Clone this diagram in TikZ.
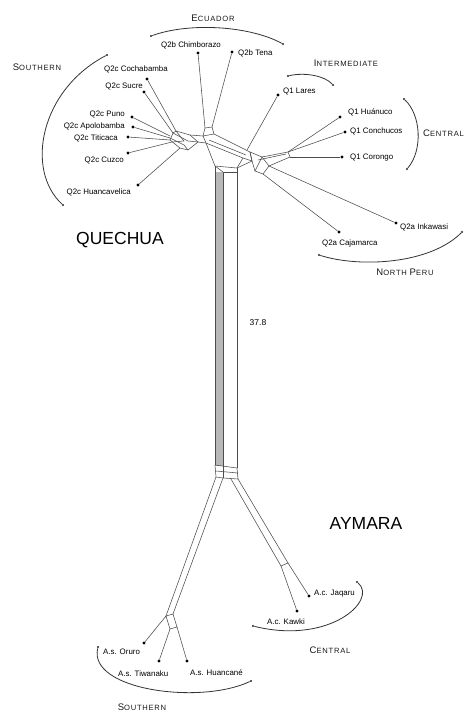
\documentclass[tikz,border=0pt]{standalone}
\usepackage{fontspec}
\setmainfont{Liberation Sans}
\newcommand\gsc[2]{{\fontsize{9.5}{10}\selectfont #1}{\fontsize{7.6}{8}\selectfont\addfontfeature{LetterSpace=10}#2}}
\begin{document}
\begin{tikzpicture}[x=1pt,y=-1pt,
  net/.style={draw=black!70, line width=0.55pt},
  tip/.style={circle, fill=black, inner sep=0pt, minimum size=3.2pt},
  adot/.style={circle, fill=black!85, inner sep=0pt, minimum size=2.4pt},
  arcline/.style={draw=black!80, line width=0.8pt},
  lab/.style={font=\fontsize{7.9}{8}\selectfont, inner sep=0pt, text=black},
  grp/.style={inner sep=0pt, text=black!90},
  big/.style={font=\fontsize{17.5}{18}\selectfont, inner sep=0pt, text=black}
]
\useasboundingbox[fill=white] (0,0) rectangle (467,713);

% ---------- taxa dots ----------
\node[tip] (chim) at (198,53) {};
\node[tip] (tena) at (232,52) {};
\node[tip] (coch) at (147,79) {};
\node[tip] (sucr) at (144,92) {};
\node[tip] (puno) at (132,117) {};
\node[tip] (apol) at (133,127) {};
\node[tip] (titi) at (128,137) {};
\node[tip] (cuzc) at (128,153) {};
\node[tip] (huav) at (138,185) {};
\node[tip] (lare) at (278,95) {};
\node[tip] (huan) at (340,117) {};
\node[tip] (conc) at (345,132) {};
\node[tip] (coro) at (342,157) {};
\node[tip] (inka) at (396,223) {};
\node[tip] (caja) at (339,232) {};
\node[tip] (orur) at (144,643) {};
\node[tip] (tiwa) at (159,661) {};
\node[tip] (huac) at (187,661) {};
\node[tip] (jaqa) at (309,596) {};
\node[tip] (kawk) at (297,611) {};

% ---------- taxa labels ----------
\node[lab] (lchim) at (191,45) {Q2b Chimborazo};
\node[lab,anchor=west] (ltena) at (238,53) {Q2b Tena};
\node[lab,anchor=east] (lcoch) at (168,69) {Q2c Cochabamba};
\node[lab,anchor=east] (lsucr) at (143,86) {Q2c Sucre};
\node[lab,anchor=east] (lpuno) at (125,114) {Q2c Puno};
\node[lab,anchor=east] (lapol) at (125,126) {Q2c Apolobamba};
\node[lab,anchor=east] (ltiti) at (118,138) {Q2c Titicaca};
\node[lab,anchor=east] (lcuzc) at (124,160) {Q2c Cuzco};
\node[lab,anchor=east] (lhuav) at (131,192) {Q2c Huancavelica};
\node[lab,anchor=west] (llare) at (283,91) {Q1 Lares};
\node[lab,anchor=west] (lhuan) at (348,112) {Q1 Huánuco};
\node[lab,anchor=west] (lconc) at (350,131) {Q1 Conchucos};
\node[lab,anchor=west] (lcoro) at (350,158) {Q1 Corongo};
\node[lab,anchor=west] (linka) at (400,227) {Q2a Inkawasi};
\node[lab,anchor=west] (lcaja) at (322,243) {Q2a Cajamarca};
\node[lab,anchor=west] (lorur) at (103,652) {A.s. Oruro};
\node[lab,anchor=west] (ltiwa) at (118,674) {A.s. Tiwanaku};
\node[lab,anchor=west] (lhuac) at (190,673) {A.s. Huancané};
\node[lab,anchor=west] (ljaqa) at (314,594) {A.c. Jaqaru};
\node[lab,anchor=west] (lkawk) at (267,622) {A.c. Kawki};

% ---------- big labels ----------
\node[big] (quechua) at (120,240) {QUECHUA};
\node[big] (aymara) at (366,523) {AYMARA};
\node[font=\fontsize{8.5}{9}\selectfont, inner sep=0pt] (len) at (258,323) {37.8};

% ---------- group labels ----------
\node[grp] (gecu) at (213,18) {\gsc{E}{CUADOR}};
\node[grp] (gsouq) at (37,67) {\gsc{S}{OUTHERN}};
\node[grp] (gint) at (346,63) {\gsc{I}{NTERMEDIATE}};
\node[grp,anchor=west] (gcenq) at (423,133) {\gsc{C}{ENTRAL}};
\node[grp] (gnp) at (405,272) {\gsc{N}{ORTH} \gsc{P}{ERU}};
\node[grp] (gcena) at (330,650) {\gsc{C}{ENTRAL}};
\node[grp] (gsoua) at (142,707) {\gsc{S}{OUTHERN}};

% ---------- group arcs ----------
\node[adot] (e1) at (151,36) {}; \node[adot] (e2) at (283,44) {};
\draw[arcline] (e1) .. controls (190,22) and (250,26) .. (e2);
\node[adot] (s1) at (107,55) {}; \node[adot] (s2) at (63,205) {};
\draw[arcline] (s1) .. controls (40,90) and (25,170) .. (s2);
\node[adot] (i1) at (288,76) {}; \node[adot] (i2) at (333,85) {};
\draw[arcline] (i1) .. controls (305,72) and (325,76) .. (i2);
\node[adot] (k1) at (404,99) {}; \node[adot] (k2) at (407,169) {};
\draw[arcline] (k1) .. controls (421,115) and (423,150) .. (k2);
\node[adot] (n1) at (319,255) {}; \node[adot] (n2) at (462,232) {};
\draw[arcline] (n1) .. controls (360,268) and (430,264) .. (n2);
\node[adot] (a1) at (357,582) {}; \node[adot] (a2) at (253,626) {};
\draw[arcline] (a1) .. controls (378,600) and (330,645) .. (a2);
\node[adot] (b1) at (98,647) {}; \node[adot] (b2) at (251,681) {};
\draw[arcline] (b1) .. controls (88,690) and (200,705) .. (b2);

% ---------- network: coordinates ----------
\coordinate (hq1) at (176,131);
\coordinate (hq2) at (173,133);
\coordinate (hq3) at (170,136);
\coordinate (hq4) at (170,138);
\coordinate (hq5) at (170,140);
\coordinate (hq6) at (172,142);
\coordinate (hq7) at (180,148);
\coordinate (hr1) at (190,135);
\coordinate (hr2) at (198,142);
\coordinate (hr3) at (188,150);
\coordinate (qb1) at (205,128);
\coordinate (qb2) at (212,127);
\coordinate (m1) at (203,136);
\coordinate (m2) at (214,134);
\coordinate (m3) at (250,152);
\coordinate (m4) at (252,161);
\coordinate (m5) at (237,168);
\coordinate (m6) at (215,166);
\coordinate (m7) at (206,143);
\coordinate (p1) at (262,157);
\coordinate (p2) at (269,166);
\coordinate (p3) at (263,174);
\coordinate (p4) at (255,171);
\coordinate (r1) at (288,152);
\coordinate (r2) at (290,157);
\coordinate (lq) at (247,150);
\coordinate (ct1) at (215,172);
\coordinate (ct2) at (223,172);
\coordinate (ct3) at (237,172);
\coordinate (cb1) at (215,465);
\coordinate (cb2) at (223,466);
\coordinate (cb3) at (237,468);
\coordinate (bb1) at (216,477);
\coordinate (bb2) at (223,478);
\coordinate (bb3) at (238,479);
\coordinate (lb1) at (166,616);
\coordinate (lb2) at (173,614);
\coordinate (lb3) at (177,627);
\coordinate (lb4) at (170,629);
\coordinate (rb1) at (281,566);
\coordinate (rb2) at (288,563);

% ---------- network: terminal edges ----------
\draw[net] (chim) -- (qb1);
\draw[net] (tena) -- (qb2);
\draw[net] (coch) -- (hq1);
\draw[net] (sucr) -- (hq2);
\draw[net] (puno) -- (hq3);
\draw[net] (apol) -- (hq4);
\draw[net] (titi) -- (hq5);
\draw[net] (cuzc) -- (hq6);
\draw[net] (huav) -- (hq7);
\draw[net] (lare) -- (lq);
\draw[net] (huan) -- (r1);
\draw[net] (conc) -- (r1);
\draw[net] (coro) -- (r2);
\draw[net] (inka) -- (p2);
\draw[net] (caja) -- (p3);
\draw[net] (orur) -- (lb1);
\draw[net] (tiwa) -- (lb4);
\draw[net] (huac) -- (lb3);
\draw[net] (jaqa) -- (rb2);
\draw[net] (kawk) -- (rb1);

% ---------- network: mesh ----------
\draw[net] (hq1) -- (hr1) -- (hr2) -- (hr3) -- (hq7) -- (hq5) -- (hq2) -- cycle;
\draw[net] (hq2) -- (188,141) -- (hr2);
\draw[net] (hq4) -- (184,145) -- (hr3);
\draw[net] (hq1) -- (184,141) -- (hq6);
\draw[net] (hr1) -- (m1);
\draw[net] (hr2) -- (m7);
\draw[net] (qb1) -- (m1);
\draw[net] (qb2) -- (m2);
\draw[net] (qb1) -- (qb2);
\draw[net] (m1) -- (m2) -- (m3) -- (m4) -- (m5) -- (m6) -- (m7) -- cycle;
\draw[net] (m7) -- (243,158) -- (m4);
\draw[net] (209,140) -- (246,155);
\draw[net] (243,158) -- (m5);
\draw[net] (m3) -- (p1) -- (p2) -- (p3) -- (p4) -- (m4);
\draw[net] (m3) -- (m4);
\draw[net] (p1) -- (p4);
\draw[net] (p1) -- (r1) -- (r2) -- (p2);
\draw[net] (258,160) -- (286,154);
\draw[net] (m6) -- (ct1);
\draw[net] (m6) -- (ct2);
\draw[net] (m5) -- (ct3);
\draw[net] (ct1) -- (ct3);

% column
\fill[black!28] (ct1) rectangle (cb2);
\draw[net] (ct1) -- (cb1);
\draw[net] (ct2) -- (cb2);
\draw[net] (ct3) -- (cb3);
\draw[net] (cb1) -- (cb3);
\draw[net] (cb1) -- (bb1) -- (bb2) -- (bb3) -- (cb3);
\draw[net] (cb2) -- (bb2);
\draw[net] (216,471) -- (238,473);

% Aymara branches
\draw[net] (bb1) -- (lb1);
\draw[net] (bb2) -- (lb2);
\draw[net] (lb1) -- (lb2) -- (lb3) -- (lb4) -- cycle;
\draw[net] (231,479) -- (rb1);
\draw[net] (bb3) -- (rb2);
\draw[net] (rb1) -- (rb2);
\end{tikzpicture}
\end{document}
